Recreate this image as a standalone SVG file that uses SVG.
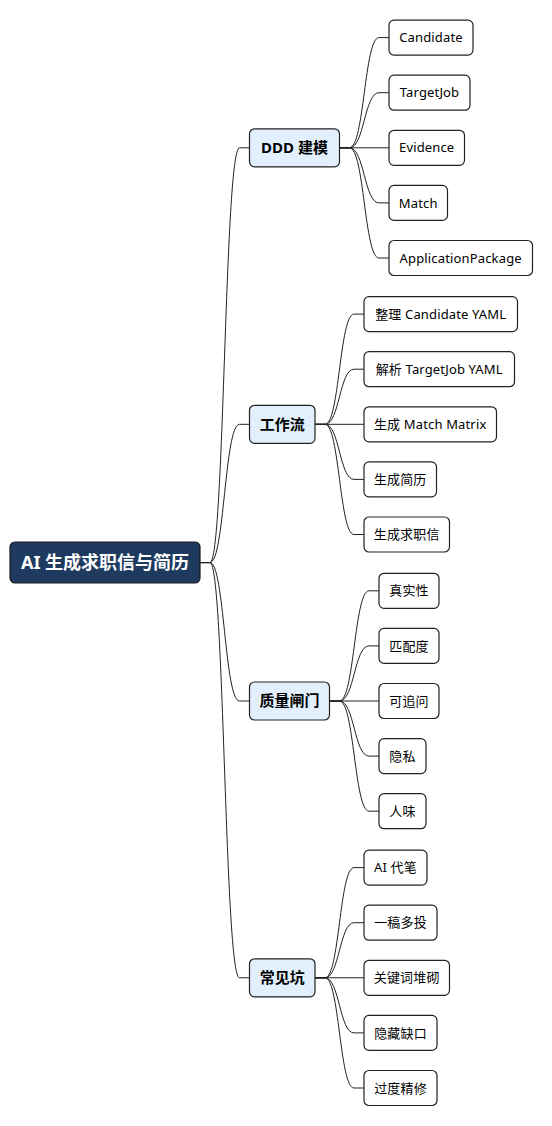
<svg xmlns="http://www.w3.org/2000/svg" width="552" height="1126" viewBox="0 0 552 1126">
<style>
.bg{fill:#ffffff}
.root rect{fill:#1e3a5f;stroke:#1a1a1a;stroke-width:1.2}
.root text{fill:#ffffff;font-weight:bold;font-size:18px}
.l1 rect{fill:#e2f0fd;stroke:#222222;stroke-width:1.2}
.l1 text{fill:#000000;font-weight:bold;font-size:15px}
.leaf rect{fill:#ffffff;stroke:#222222;stroke-width:1.2}
.leaf text{fill:#000000;font-size:13px;letter-spacing:0.15px}
text{font-family:"Noto Sans","Noto Sans CJK SC",sans-serif;text-anchor:middle}
#connectors path{fill:none;stroke:#222222;stroke-width:1}
</style>
<rect class="bg" x="0" y="0" width="552" height="1126"/>
<g id="connectors">
<path d="M200,562.6 L210,562.6 C224.5,562.6 224.5,147.8 239.5,147.8 L249.5,147.8"/>
<path d="M200,562.6 L210,562.6 C224.5,562.6 224.5,424.3 239.5,424.3 L249.5,424.3"/>
<path d="M200,562.6 L210,562.6 C224.5,562.6 224.5,701 239.5,701 L249.5,701"/>
<path d="M200,562.6 L210,562.6 C224.5,562.6 224.5,977.8 239.5,977.8 L249.5,977.8"/>
<path d="M339.5,147.8 L349.5,147.8 C364.3,147.8 364.3,37.6 379,37.6 L389,37.6"/>
<path d="M339.5,147.8 L349.5,147.8 C364.3,147.8 364.3,92.7 379,92.7 L389,92.7"/>
<path d="M339.5,147.8 L389,147.8"/>
<path d="M339.5,147.8 L349.5,147.8 C364.3,147.8 364.3,202.9 379,202.9 L389,202.9"/>
<path d="M339.5,147.8 L349.5,147.8 C364.3,147.8 364.3,258 379,258 L389,258"/>
<path d="M315,424.3 L325,424.3 C339.5,424.3 339.5,314.1 354,314.1 L364,314.1"/>
<path d="M315,424.3 L325,424.3 C339.5,424.3 339.5,369.2 354,369.2 L364,369.2"/>
<path d="M315,424.3 L364,424.3"/>
<path d="M315,424.3 L325,424.3 C339.5,424.3 339.5,479.4 354,479.4 L364,479.4"/>
<path d="M315,424.3 L325,424.3 C339.5,424.3 339.5,534.5 354,534.5 L364,534.5"/>
<path d="M329.5,701 L339.5,701 C354.3,701 354.3,590.8 369,590.8 L379,590.8"/>
<path d="M329.5,701 L339.5,701 C354.3,701 354.3,645.9 369,645.9 L379,645.9"/>
<path d="M329.5,701 L379,701"/>
<path d="M329.5,701 L339.5,701 C354.3,701 354.3,756.1 369,756.1 L379,756.1"/>
<path d="M329.5,701 L339.5,701 C354.3,701 354.3,811.2 369,811.2 L379,811.2"/>
<path d="M315,977.8 L325,977.8 C339.5,977.8 339.5,867.6 354,867.6 L364,867.6"/>
<path d="M315,977.8 L325,977.8 C339.5,977.8 339.5,922.7 354,922.7 L364,922.7"/>
<path d="M315,977.8 L364,977.8"/>
<path d="M315,977.8 L325,977.8 C339.5,977.8 339.5,1032.9 354,1032.9 L364,1032.9"/>
<path d="M315,977.8 L325,977.8 C339.5,977.8 339.5,1088 354,1088 L364,1088"/>
</g>
<g id="root" class="root"><rect x="10" y="542" width="190" height="41" rx="5"/><text x="105" y="569">AI 生成求职信与简历</text></g>
<g id="n-ddd" class="l1"><rect x="249.5" y="128.8" width="90" height="38" rx="5"/><text x="294.5" y="153.2">DDD 建模</text></g>
<g id="n-workflow" class="l1"><rect x="249.5" y="405.3" width="65.5" height="38" rx="5"/><text x="282.2" y="429.7">工作流</text></g>
<g id="n-quality" class="l1"><rect x="249.5" y="682" width="80" height="38" rx="5"/><text x="289.5" y="706.4">质量闸门</text></g>
<g id="n-pitfalls" class="l1"><rect x="249.5" y="958.8" width="65.5" height="38" rx="5"/><text x="282.2" y="983.2">常见坑</text></g>
<g id="n-candidate" class="leaf"><rect x="389" y="20.1" width="84" height="35" rx="5"/><text x="431" y="42.2">Candidate</text></g>
<g id="n-targetjob" class="leaf"><rect x="389" y="75.2" width="81" height="35" rx="5"/><text x="429.5" y="97.3">TargetJob</text></g>
<g id="n-evidence" class="leaf"><rect x="389" y="130.3" width="75.5" height="35" rx="5"/><text x="426.7" y="152.4">Evidence</text></g>
<g id="n-match" class="leaf"><rect x="389" y="185.4" width="58.5" height="35" rx="5"/><text x="418.2" y="207.5">Match</text></g>
<g id="n-apppkg" class="leaf"><rect x="389" y="240.5" width="143.5" height="35" rx="5"/><text x="460.7" y="262.6">ApplicationPackage</text></g>
<g id="n-w1" class="leaf"><rect x="364" y="296.6" width="153.5" height="35" rx="5"/><text x="440.7" y="318.7">整理 Candidate YAML</text></g>
<g id="n-w2" class="leaf"><rect x="364" y="351.7" width="150.5" height="35" rx="5"/><text x="439.2" y="373.8">解析 TargetJob YAML</text></g>
<g id="n-w3" class="leaf"><rect x="364" y="406.8" width="132.5" height="35" rx="5"/><text x="430.2" y="428.9">生成 Match Matrix</text></g>
<g id="n-w4" class="leaf"><rect x="364" y="461.9" width="72.5" height="35" rx="5"/><text x="400.2" y="484">生成简历</text></g>
<g id="n-w5" class="leaf"><rect x="364" y="517" width="85.5" height="35" rx="5"/><text x="406.7" y="539.1">生成求职信</text></g>
<g id="n-q1" class="leaf"><rect x="379" y="573.3" width="60" height="35" rx="5"/><text x="409" y="595.4">真实性</text></g>
<g id="n-q2" class="leaf"><rect x="379" y="628.4" width="60" height="35" rx="5"/><text x="409" y="650.5">匹配度</text></g>
<g id="n-q3" class="leaf"><rect x="379" y="683.5" width="60" height="35" rx="5"/><text x="409" y="705.6">可追问</text></g>
<g id="n-q4" class="leaf"><rect x="379" y="738.6" width="47" height="35" rx="5"/><text x="402.5" y="760.7">隐私</text></g>
<g id="n-q5" class="leaf"><rect x="379" y="793.7" width="47" height="35" rx="5"/><text x="402.5" y="815.8">人味</text></g>
<g id="n-p1" class="leaf"><rect x="364" y="850.1" width="63" height="35" rx="5"/><text x="395.5" y="872.2">AI 代笔</text></g>
<g id="n-p2" class="leaf"><rect x="364" y="905.2" width="73" height="35" rx="5"/><text x="400.5" y="927.3">一稿多投</text></g>
<g id="n-p3" class="leaf"><rect x="364" y="960.3" width="85.5" height="35" rx="5"/><text x="406.7" y="982.4">关键词堆砌</text></g>
<g id="n-p4" class="leaf"><rect x="364" y="1015.4" width="73" height="35" rx="5"/><text x="400.5" y="1037.5">隐藏缺口</text></g>
<g id="n-p5" class="leaf"><rect x="364" y="1070.5" width="73" height="35" rx="5"/><text x="400.5" y="1092.6">过度精修</text></g>
</svg>
